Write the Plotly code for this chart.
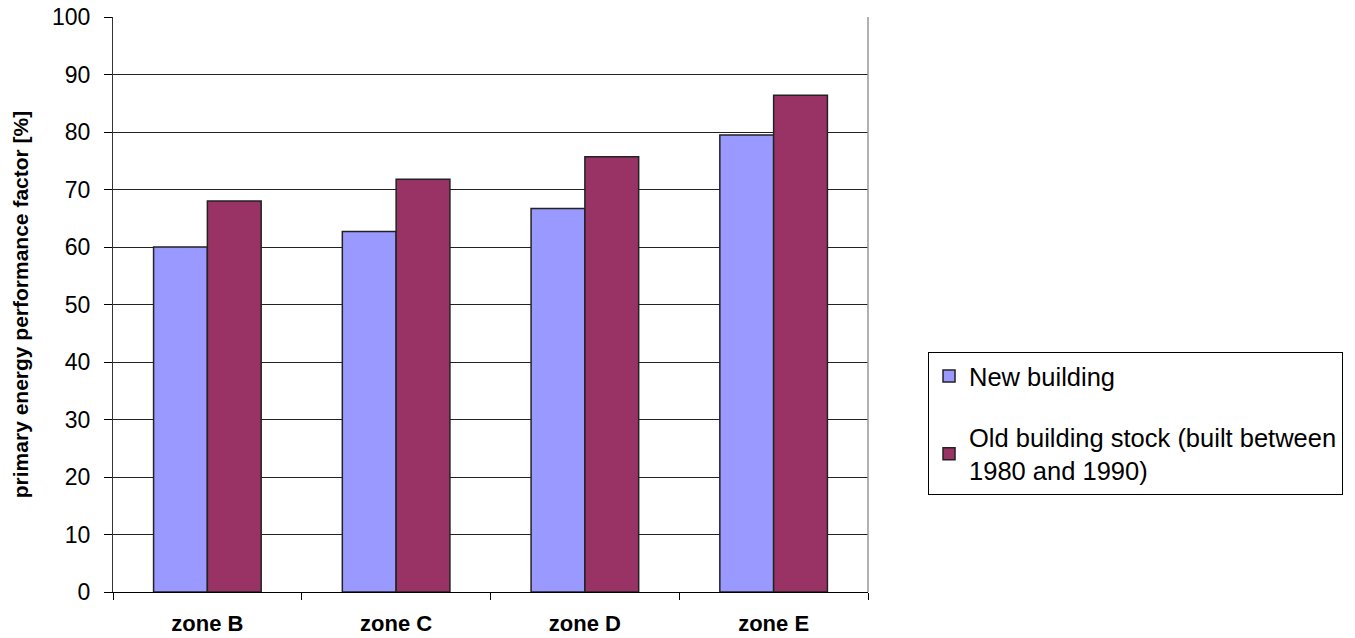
import plotly.graph_objects as go

categories = ["zone B", "zone C", "zone D", "zone E"]
new_building = [60.0, 62.7, 66.7, 79.5]
old_building = [68.0, 71.8, 75.7, 86.4]
series_names = ["New building", "Old building stock (built between<br>1980 and 1990)"]
y_ticks = [0, 10, 20, 30, 40, 50, 60, 70, 80, 90, 100]

fig = go.Figure()
fig.add_trace(go.Bar(
    x=categories, y=new_building, name=series_names[0],
    marker=dict(color="#9999FF", line=dict(color="#222222", width=1.5)),
    legendgroup="a",
))
fig.add_trace(go.Bar(
    x=categories, y=old_building, name=series_names[1],
    marker=dict(color="#993366", line=dict(color="#222222", width=1.5)),
    legendgroup="b",
))

fig.update_layout(
    width=1355, height=638,
    margin=dict(l=113, r=487, t=17, b=46, autoexpand=False),
    paper_bgcolor="white", plot_bgcolor="white",
    barmode="group", bargap=0.43, bargroupgap=0,
    font=dict(family="Liberation Sans, Arial, sans-serif", color="black", size=23),
    legend=dict(
        x=1.0795, y=0.4174, xanchor="left", yanchor="top",
        bordercolor="black", borderwidth=1,
        font=dict(size=25.5, color="black"),
        tracegroupgap=25, traceorder="grouped",
        itemwidth=30,
    ),
    showlegend=True,
)
fig.update_xaxes(
    showline=True, linecolor="black", linewidth=1.2,
    ticks="outside", tickson="boundaries", ticklen=7, tickcolor="black",
    tickfont=dict(size=22, family="Liberation Sans, Arial, sans-serif"),
    ticklabelstandoff=11,
    showgrid=False,
)
fig.update_xaxes(tickvals=categories, ticktext=["<b>%s</b>" % c for c in categories])
fig.update_yaxes(
    range=[0, 100], tickvals=y_ticks,
    showline=True, linecolor="#333333", linewidth=1.2,
    ticks="outside", ticklen=8, tickcolor="black",
    showgrid=True, gridcolor="#222222", gridwidth=1,
    zeroline=False,
    tickfont=dict(size=23),
    ticklabelstandoff=9,
    ticklabeloverflow="allow",
    title=dict(text="<b>primary energy performance factor [%]</b>",
               font=dict(size=21), standoff=17),
)
fig.add_shape(type="line", xref="paper", yref="paper", x0=1, x1=1, y0=0, y1=1,
              line=dict(color="#999999", width=1.5))

fig.write_html("out.html", config={"displayModeBar": False},
               post_script="document.body.style.margin='0';")
